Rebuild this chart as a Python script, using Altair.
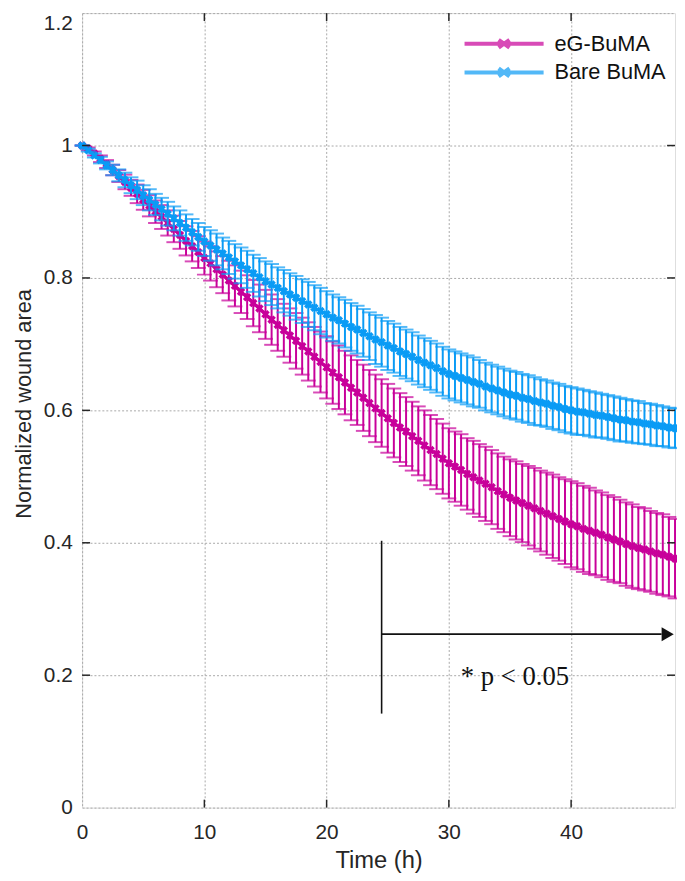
import altair as alt
import pandas as pd

# ---------------- data ----------------
times = [i * 0.5 for i in range(98)]  # 0 ... 48.5 h, every 0.5 h

series_names = ["eG-BuMA", "Bare BuMA"]
series_colors = ["#C8009A", "#0A9BF5"]

eg_mean = [1.000, 0.995, 0.988, 0.980, 0.972, 0.963, 0.954, 0.945, 0.936, 0.927, 0.918,
           0.909, 0.900, 0.892, 0.883, 0.874, 0.865, 0.856, 0.848, 0.839, 0.830,
           0.822, 0.813, 0.805, 0.796, 0.788, 0.779, 0.771, 0.762, 0.754, 0.745,
           0.737, 0.729, 0.721, 0.713, 0.705, 0.697, 0.689, 0.681, 0.673, 0.665,
           0.657, 0.650, 0.642, 0.634, 0.627, 0.619, 0.611, 0.603, 0.596, 0.588,
           0.581, 0.574, 0.568, 0.561, 0.554, 0.547, 0.540, 0.534, 0.527, 0.520,
           0.515, 0.510, 0.504, 0.499, 0.494, 0.489, 0.484, 0.478, 0.473, 0.468,
           0.464, 0.460, 0.456, 0.452, 0.448, 0.444, 0.440, 0.436, 0.432, 0.428,
           0.425, 0.421, 0.418, 0.415, 0.412, 0.408, 0.405, 0.402, 0.398, 0.395,
           0.392, 0.390, 0.387, 0.384, 0.382, 0.379, 0.376]
eg_err = [0.000, 0.002, 0.003, 0.005, 0.006, 0.008, 0.009, 0.011, 0.012, 0.014, 0.015,
          0.016, 0.017, 0.018, 0.019, 0.020, 0.021, 0.022, 0.023, 0.024, 0.025,
          0.026, 0.027, 0.028, 0.030, 0.031, 0.032, 0.033, 0.035, 0.036, 0.037,
          0.038, 0.039, 0.040, 0.041, 0.042, 0.043, 0.044, 0.045, 0.046, 0.047,
          0.047, 0.048, 0.048, 0.049, 0.049, 0.050, 0.050, 0.051, 0.051, 0.052,
          0.052, 0.052, 0.052, 0.052, 0.052, 0.053, 0.053, 0.053, 0.053, 0.053,
          0.053, 0.054, 0.054, 0.055, 0.055, 0.056, 0.056, 0.057, 0.057, 0.058,
          0.059, 0.059, 0.060, 0.061, 0.061, 0.062, 0.063, 0.063, 0.064, 0.065,
          0.065, 0.065, 0.065, 0.064, 0.064, 0.064, 0.064, 0.063, 0.063, 0.063,
          0.062, 0.062, 0.061, 0.061, 0.061, 0.060, 0.060]

bare_mean = [1.000, 0.993, 0.985, 0.978, 0.970, 0.963, 0.955, 0.948, 0.940, 0.933, 0.925,
             0.918, 0.911, 0.904, 0.897, 0.890, 0.883, 0.876, 0.869, 0.862, 0.855,
             0.849, 0.843, 0.837, 0.831, 0.825, 0.819, 0.813, 0.807, 0.801, 0.795,
             0.790, 0.785, 0.780, 0.775, 0.770, 0.765, 0.760, 0.755, 0.750, 0.745,
             0.740, 0.736, 0.731, 0.726, 0.722, 0.717, 0.712, 0.707, 0.703, 0.698,
             0.694, 0.689, 0.685, 0.681, 0.676, 0.672, 0.668, 0.664, 0.659, 0.655,
             0.652, 0.649, 0.646, 0.643, 0.640, 0.636, 0.633, 0.630, 0.627, 0.624,
             0.622, 0.619, 0.617, 0.614, 0.612, 0.610, 0.607, 0.605, 0.602, 0.600,
             0.598, 0.597, 0.595, 0.593, 0.592, 0.590, 0.588, 0.586, 0.585, 0.583,
             0.582, 0.580, 0.579, 0.577, 0.576, 0.574, 0.573]
bare_err = [0.000, 0.002, 0.003, 0.005, 0.006, 0.008, 0.009, 0.011, 0.012, 0.014, 0.015,
            0.016, 0.016, 0.017, 0.018, 0.018, 0.019, 0.020, 0.020, 0.021, 0.022,
            0.023, 0.024, 0.024, 0.025, 0.026, 0.027, 0.028, 0.028, 0.029, 0.030,
            0.031, 0.031, 0.032, 0.032, 0.033, 0.033, 0.034, 0.034, 0.035, 0.035,
            0.035, 0.035, 0.036, 0.036, 0.036, 0.036, 0.036, 0.037, 0.037, 0.037,
            0.037, 0.037, 0.037, 0.037, 0.037, 0.037, 0.037, 0.037, 0.037, 0.037,
            0.037, 0.037, 0.037, 0.037, 0.036, 0.036, 0.036, 0.036, 0.036, 0.036,
            0.036, 0.036, 0.036, 0.036, 0.035, 0.035, 0.035, 0.035, 0.035, 0.035,
            0.035, 0.034, 0.034, 0.034, 0.033, 0.033, 0.033, 0.033, 0.032, 0.032,
            0.032, 0.031, 0.031, 0.031, 0.030, 0.030, 0.030]

x_ticks = [0, 10, 20, 30, 40]
y_ticks = [0, 0.2, 0.4, 0.6, 0.8, 1.0, 1.2]
x_domain = [0, 48.5]
y_domain = [0, 1.2]

# significance annotation
sig_start = [24.5]
sig_bar_y = [0.142, 0.403]
sig_arrow_y = [0.262]
sig_arrow_end = [47.4]
sig_head_x = [47.9]
sig_text = ["* p < 0.05"]
sig_text_pos = [35.4, 0.197]

for arr in (eg_mean, eg_err, bare_mean, bare_err):
    assert len(arr) == len(times)

# ---------------- chart ----------------
FONT = "Liberation Sans"
TXT = "#262626"

x_scale = alt.Scale(domain=x_domain, nice=False, zero=False)
y_scale = alt.Scale(domain=y_domain, nice=False, zero=False)
x_axis = alt.Axis(values=x_ticks, title="Time (h)", grid=True, gridDash=[2, 2],
                  gridColor="#a8a8a8", gridWidth=1, ticks=False, domain=False,
                  labelFlush=False,
                  labelFont=FONT, labelFontSize=21, labelColor=TXT, labelPadding=14,
                  titleFont=FONT, titleFontSize=24, titleFontWeight="normal",
                  titleColor=TXT, titlePadding=7)
y_axis = alt.Axis(values=y_ticks, format="~g", title="Normalized wound area", grid=True,
                  gridDash=[2, 2], gridColor="#a8a8a8", gridWidth=1, ticks=False,
                  domain=False, labelFont=FONT, labelFontSize=21, labelColor=TXT,
                  labelPadding=10,
                  labelBaseline={"condition": {"test": "datum.value >= 1.19", "value": "top"},
                                 "value": "middle"},
                  titleFont=FONT, titleFontSize=22, titleFontWeight="normal",
                  titleColor=TXT, titlePadding=8, titleY=395)

color_scale = alt.Scale(domain=series_names, range=series_colors)
legend = alt.Legend(
    title=None, orient="none", legendX=415, legendY=19,
    symbolType="M-4,0H4M-0.55,-0.4L0.55,0.4M-0.55,0.4L0.55,-0.4",
    symbolSize=400, symbolStrokeWidth=4, labelFont=FONT, labelFontSize=22,
    labelColor="#111111", labelOffset=39, rowPadding=5, padding=0,
)
col = alt.Color("series:N", scale=color_scale, legend=legend)


def series_layers(name, mean, err):
    df = pd.DataFrame({
        "t": times,
        "v": mean,
        "lo": [m - e for m, e in zip(mean, err)],
        "hi": [m + e for m, e in zip(mean, err)],
        "series": [name] * len(times),
    })
    base = alt.Chart(df)
    X = alt.X("t:Q", scale=x_scale, axis=x_axis)
    bars = base.mark_rule(strokeWidth=2).encode(
        x=X, y=alt.Y("lo:Q", scale=y_scale, axis=y_axis), y2="hi:Q", color=col)
    cap_lo = base.mark_tick(orient="horizontal", size=15, thickness=2).encode(
        x=X, y=alt.Y("lo:Q", scale=y_scale, axis=y_axis), color=col)
    cap_hi = base.mark_tick(orient="horizontal", size=15, thickness=2).encode(
        x=X, y=alt.Y("hi:Q", scale=y_scale, axis=y_axis), color=col)
    line = base.mark_line(strokeWidth=3).encode(
        x=X, y=alt.Y("v:Q", scale=y_scale, axis=y_axis), color=col)
    pts = base.mark_point(shape="cross", angle=45, filled=True, size=75, opacity=1).encode(
        x=X, y=alt.Y("v:Q", scale=y_scale, axis=y_axis), color=col)
    return [bars, cap_lo, cap_hi, line, pts]


layers = []
layers += series_layers(series_names[0], eg_mean, eg_err)
layers += series_layers(series_names[1], bare_mean, bare_err)

X_plain = alt.X("x:Q", scale=x_scale, axis=x_axis)

# inward ticks (MATLAB style box ticks)
tick_len_x = 0.65
tick_len_y = 0.012
xt = pd.DataFrame({"x": x_ticks[1:] + x_ticks[1:],
                   "y": [y_domain[0]] * 4 + [y_domain[1]] * 4,
                   "y2": [y_domain[0] + tick_len_y] * 4 + [y_domain[1] - tick_len_y] * 4})
layers.append(alt.Chart(xt).mark_rule(color="#262626", strokeWidth=1.5).encode(
    x=X_plain, y=alt.Y("y:Q", scale=y_scale, axis=y_axis), y2="y2:Q"))
inner_y = y_ticks[1:-1]
yt = pd.DataFrame({"y": inner_y + inner_y,
                   "x": [x_domain[0]] * len(inner_y) + [x_domain[1]] * len(inner_y),
                   "x2": [x_domain[0] + tick_len_x] * len(inner_y) + [x_domain[1] - tick_len_x] * len(inner_y)})
layers.append(alt.Chart(yt).mark_rule(color="#262626", strokeWidth=1.5).encode(
    x=X_plain, x2="x2:Q", y=alt.Y("y:Q", scale=y_scale, axis=y_axis)))

# significance annotation
vb = pd.DataFrame({"x": sig_start, "y": [sig_bar_y[0]], "y2": [sig_bar_y[1]]})
layers.append(alt.Chart(vb).mark_rule(color="#111111", strokeWidth=1.6).encode(
    x=X_plain, y=alt.Y("y:Q", scale=y_scale, axis=y_axis), y2="y2:Q"))
ar = pd.DataFrame({"x": sig_start, "x2": sig_arrow_end, "y": sig_arrow_y})
layers.append(alt.Chart(ar).mark_rule(color="#111111", strokeWidth=1.6).encode(
    x=X_plain, x2="x2:Q", y=alt.Y("y:Q", scale=y_scale, axis=y_axis)))
hd = pd.DataFrame({"x": sig_head_x, "y": sig_arrow_y})
layers.append(alt.Chart(hd).mark_point(shape="triangle-right", filled=True, size=200,
                                       color="#111111", opacity=1).encode(
    x=X_plain, y=alt.Y("y:Q", scale=y_scale, axis=y_axis)))
tx = pd.DataFrame({"x": [sig_text_pos[0]], "y": [sig_text_pos[1]], "label": sig_text})
layers.append(alt.Chart(tx).mark_text(font="Liberation Serif", fontSize=27, color="#111111",
                                      align="center", baseline="middle").encode(
    x=X_plain, y=alt.Y("y:Q", scale=y_scale, axis=y_axis), text="label:N"))

chart = alt.layer(*layers).properties(
    width=600, height=804,
    autosize=alt.AutoSizeParams(type="none"),
    padding={"left": 75, "top": 0, "right": 2, "bottom": 61},
).configure_view(stroke="#1a1a1a", strokeWidth=2).configure(background="white")

chart.save("out.html", embed_options={"renderer": "svg", "actions": False})
